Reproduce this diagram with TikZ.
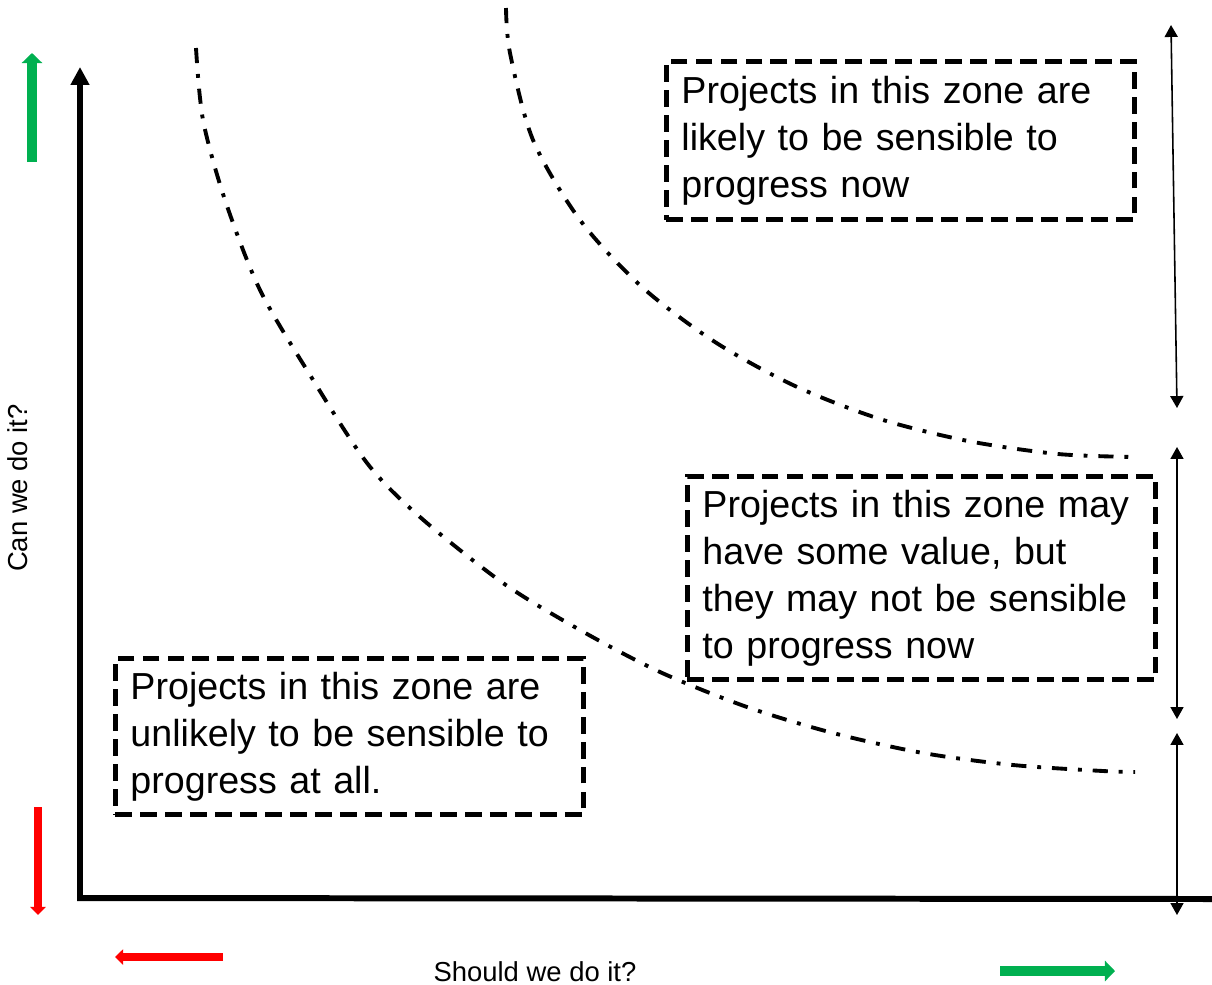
\documentclass[tikz,border=0pt]{standalone}
\usepackage{fontspec}
\setmainfont{Liberation Sans}
\usepackage{xcolor}
\usetikzlibrary{arrows.meta}
\definecolor{okgreen}{RGB}{0,176,80}
\definecolor{nored}{RGB}{255,0,0}

\begin{document}
\begin{tikzpicture}[x=0.01cm,y=-0.01cm,
			zone/.style={draw,line width=1.4pt,dash pattern=on 4.8pt off 2.3pt,anchor=north west,inner xsep=0.15cm,text width=4.38cm,align=left,font=\fontsize{10.7}{13.4}\selectfont},
		bound/.style={line width=1.1pt,dash pattern=on 4.3pt off 3.1pt on 1.1pt off 3.1pt},
		axis/.style={line width=1.7pt,line join=miter,-{Triangle[width=5.1pt,length=5.1pt]}},
		span/.style={line width=0.45pt,{Triangle[width=3.7pt,length=3.4pt]}-{Triangle[width=3.7pt,length=3.4pt]}},
		good/.style={okgreen,line width=2.85pt,-{Triangle[width=5.7pt,length=2.85pt]}},
		bad/.style={nored,line width=2.1pt,-{Triangle[width=4.3pt,length=2.3pt]}},
		lab/.style={font=\fontsize{7.8}{9}\selectfont}]
	\useasboundingbox (0,0) rectangle (1212,984);
		\coordinate (o) at (80,898);
		\coordinate (ytop) at (80,67);
		\coordinate (xend) at (1212,899);
		\draw[axis] (xend) -- (o) -- (ytop);
		\node[lab,rotate=90] (can) at (18,488) {Can we do it?};
		\node[lab] (should) at (535,972) {Should we do it?};
		\coordinate (gu1) at (32,162);
		\coordinate (gu2) at (32,53);
		\coordinate (rd1) at (38,807);
		\coordinate (rd2) at (38,915);
		\coordinate (rl1) at (223,957);
		\coordinate (rl2) at (115,957);
		\coordinate (gr1) at (1000,971);
		\coordinate (gr2) at (1115,971);
		\draw[good] (gu1) -- (gu2);
		\draw[bad] (rd1) -- (rd2);
		\draw[bad] (rl1) -- (rl2);
		\draw[good] (gr1) -- (gr2);
		\draw[bound] plot[smooth] coordinates {(196,48) (203,120) (225,200) (260,290) (310,375) (367,463) (420,517) (503,583) (580,630) (660,672) (747,707) (833,733) (923,753) (1013,765) (1103,771) (1135,772)};
		\draw[bound] plot[smooth] coordinates {(506,8) (510,53) (533,140) (580,220) (642,287) (715,342) (795,386) (880,419) (968,441) (1058,454) (1135,457)};
		\node[zone,minimum height=1.58cm] (now) at (664,59) {Projects in this zone are\\likely to be sensible to\\progress now};
		\node[zone,minimum height=2.03cm] (later) at (685,474) {Projects in this zone may\\have some value, but\\they may not be sensible\\to progress now};
		\node[zone,minimum height=1.56cm] (never) at (113,656) {Projects in this zone are\\unlikely to be sensible to\\progress at all.};
		\coordinate (s1) at (1171,25);
		\coordinate (s2) at (1177,408);
		\coordinate (s3) at (1177,447);
		\coordinate (s4) at (1177,719);
		\coordinate (s5) at (1177,733);
		\coordinate (s6) at (1177,915);
		\draw[span] (s1) -- (s2);
		\draw[span] (s3) -- (s4);
		\draw[span] (s5) -- (s6);
	\end{tikzpicture}
\end{document}
